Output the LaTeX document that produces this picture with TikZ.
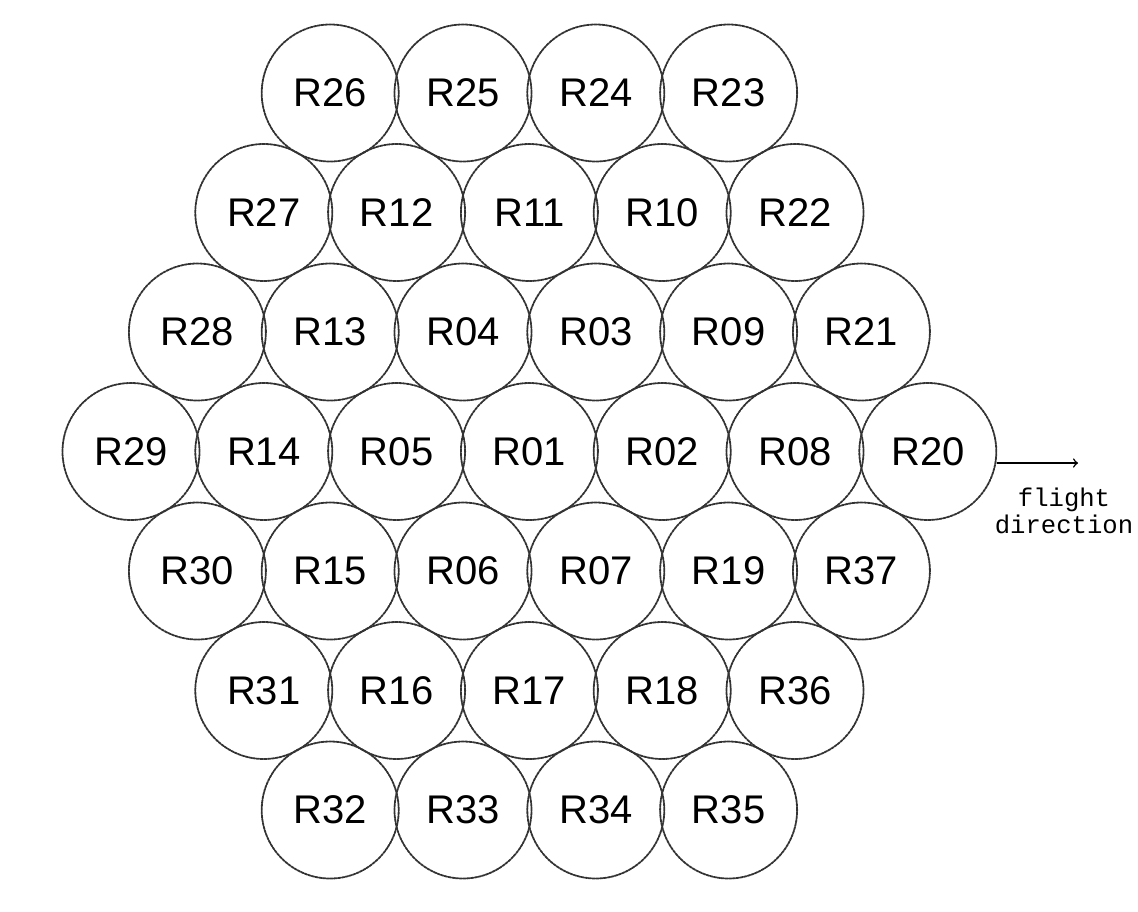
\documentclass[tikz,border=0pt]{standalone}
\usepackage{fontspec}
\setmainfont{Liberation Sans}
\newfontfamily\monofont{Liberation Mono}
\usetikzlibrary{positioning}

\begin{document}
\begin{tikzpicture}[x=0.5pt,y=-0.5pt,>=to, line join=round, line cap=round,
	rcell/.style={circle, draw=black!80, line width=0.9pt, dash pattern=on 1.4pt off 0.5pt,
		minimum size=68.5pt, inner sep=0pt, font=\fontsize{20}{24}\selectfont}]
	\def\dx{132.8} \def\dy{119.5}
	\def\xo{131} \def\yo{93}
	\useasboundingbox (0,0) rectangle (1138,911);
	
	% [Hàng trên]
	\foreach \name [count=\i from 0] in {R26,R25,R24,R23}
		\node[rcell] (\name) at ({\xo+1.5*\dx+\i*\dx},{\yo}) {\name};
	\foreach \name [count=\i from 0] in {R27,R12,R11,R10,R22}
		\node[rcell] (\name) at ({\xo+\dx+\i*\dx},{\yo+\dy}) {\name};
	\foreach \name [count=\i from 0] in {R28,R13,R04,R03,R09,R21}
		\node[rcell] (\name) at ({\xo+0.5*\dx+\i*\dx},{\yo+2*\dy}) {\name};
	
	% [Hàng giữa]
	\foreach \name [count=\i from 0] in {R29,R14,R05,R01,R02,R08,R20}
		\node[rcell] (\name) at ({\xo+\i*\dx},{\yo+3*\dy}) {\name};
	
	% [Hàng dưới]
	\foreach \name [count=\i from 0] in {R30,R15,R06,R07,R19,R37}
		\node[rcell] (\name) at ({\xo+0.5*\dx+\i*\dx},{\yo+4*\dy}) {\name};
	\foreach \name [count=\i from 0] in {R31,R16,R17,R18,R36}
		\node[rcell] (\name) at ({\xo+\dx+\i*\dx},{\yo+5*\dy}) {\name};
	\foreach \name [count=\i from 0] in {R32,R33,R34,R35}
		\node[rcell] (\name) at ({\xo+1.5*\dx+\i*\dx},{\yo+6*\dy}) {\name};
	
	% [Hướng bay]
	\coordinate (tip) at (1078,463);
	\draw[->, line width=0.75pt] (R20.east |- tip) -- (tip);
	\node[font=\monofont\fontsize{12.8}{13.5}\selectfont, align=center] (flight) at (1064,511) {flight\\direction};
\end{tikzpicture}
\end{document}
